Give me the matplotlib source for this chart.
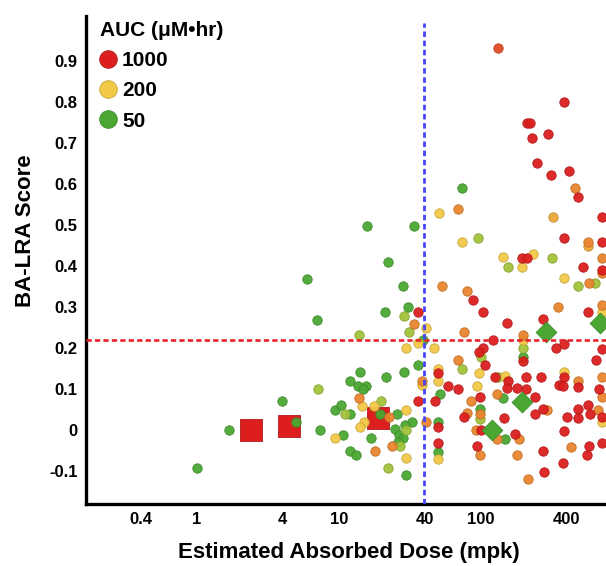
import matplotlib
matplotlib.use("Agg")
import matplotlib.pyplot as plt
from matplotlib.colors import LinearSegmentedColormap, LogNorm
from matplotlib.lines import Line2D
from matplotlib.ticker import NullLocator

plt.rcParams['font.family'] = ['Liberation Sans', 'DejaVu Sans']
plt.rcParams['font.weight'] = 'bold'

# ---- compounds grouped by AUC (uM*hr) ----
green_auc = 50
green_dose = [1.0, 1.68, 3.97, 4.98, 5.95, 7.0, 7.35,
              9.4, 10.3, 11.95, 10.67, 11.9, 13.2, 14.05, 11.95, 13.6, 15.5, 14.8,
              15.7, 22.1, 21.1, 21.4, 28.2, 30.6, 39.0, 28.7, 36.0, 33.7, 25.6, 19.4,
              32.7, 24.8, 26.5, 28.2, 16.8, 29.6, 29.2, 26.0,
              73.5, 51.4, 142.9, 98.4, 49.8, 147.6, 49.8, 198]
green_score = [-0.093, 0.0, 0.07, 0.02, 0.368, 0.268, 0.0,
               0.049, 0.061, 0.039, -0.012, -0.051, -0.061, 0.141, 0.119, 0.107, 0.107, 0.1,
               0.497, 0.409, 0.288, 0.129, 0.351, 0.30, 0.219, 0.141, 0.158, 0.497, 0.039, 0.039,
               0.0195, 0.002, -0.012, -0.0195, -0.0195, -0.11, 0.012, -0.029,
               0.59, 0.088, 0.078, 0.051, 0.0195, -0.022, -0.054, 0.178]

lime_auc = 100
lime_dose = [7.11, 11.0, 13.8, 19.8, 28.7, 31.1, 29.6, 26.9, 22.1,
             95.2, 100, 73.5, 131.8, 98.4, 482, 635, 198, 155, 316]
lime_score = [0.1, 0.039, 0.231, 0.071, 0.278, 0.239, 0.0, -0.039, -0.093,
              0.468, 0.178, 0.149, 0.129, 0.027, 0.351, 0.358, 0.20, 0.397, 0.419]

yellow_auc = 200
yellow_dose = [9.37, 14.5, 17.6, 41.0, 29.6, 36.0, 46.7, 38.4, 29.6, 15.0, 14.05, 29.6,
               50.6, 73.5, 96.8, 49.8, 49.8, 147.6, 93.7, 49.8, 384, 711, 198, 384, 711,
               143, 232, 194]
yellow_score = [-0.0195, 0.059, 0.059, 0.249, 0.20, 0.212, 0.20, 0.11, 0.049, 0.0195, 0.007, -0.068,
                0.529, 0.458, 0.139, 0.149, 0.119, 0.131, 0.107, -0.071, 0.37, 0.2875, 0.219, 0.141, 0.0195,
                0.421, 0.429, 0.397]

amber_auc = 300
amber_dose = [321, 567]
amber_score = [0.519, 0.448]

orange_auc = 450
orange_dose = [13.8, 33.7, 38.4, 22.5, 41.0, 23.6, 17.9, 53.1,
               68.9, 79.7, 75.9, 68.9, 129.7, 85.1, 79.7, 98.4, 92.2, 129.7, 185.2, 98.4, 179.3,
               576, 711, 349, 711, 198, 482, 711, 711, 292, 667, 430, 214, 459, 567, 711]
orange_score = [0.078, 0.258, 0.119, 0.032, 0.0195, -0.039, -0.051, 0.351,
                0.538, 0.339, 0.239, 0.17, 0.088, 0.071, 0.041, 0.039, 0.0, -0.022, -0.022, -0.061, -0.061,
                0.358, 0.382, 0.30, 0.3045, 0.231, 0.119, 0.129, 0.08, 0.049, 0.049, -0.041, -0.119, 0.59, 0.458, 0.42]

scarlet_auc = 700
scarlet_dose = [131.8]
scarlet_score = [0.93]

red_auc = 1000
red_dose = [36.0, 36.0,
            87.9, 103, 152, 121.5, 103, 96.8, 107, 49.8, 125.5, 154.9, 152.4, 179.3, 58.6, 68.9,
            47.4, 98.4, 75.9, 100, 145, 49.8, 173.5, 49.8, 93.7,
            567, 273, 198, 338, 384, 646, 711, 384, 354, 378, 482, 208, 265, 208, 240, 678, 240,
            273, 403, 482, 567, 586, 711, 482, 384, 577, 711, 273, 558, 378, 278,
            384, 211, 221, 229, 296, 248, 311, 417, 482, 711, 384, 711, 523, 711, 194, 211]
red_score = [0.288, 0.071,
             0.317, 0.288, 0.261, 0.219, 0.20, 0.19, 0.158, 0.139, 0.129, 0.119, 0.102, 0.102, 0.107, 0.10,
             0.071, 0.08, 0.032, 0.0, 0.029, 0.007, -0.01, -0.032, -0.039,
             0.2875, 0.27, 0.168, 0.20, 0.21, 0.17, 0.197, 0.13, 0.11, 0.107, 0.105, 0.129, 0.129, 0.10, 0.08, 0.10, 0.039,
             0.051, 0.032, 0.051, 0.061, 0.039, 0.032, 0.029, -0.0024, -0.039, -0.032, -0.051, -0.061, -0.08, -0.102,
             0.80, 0.748, 0.748, 0.711, 0.721, 0.65, 0.621, 0.631, 0.568, 0.519, 0.468, 0.458, 0.398, 0.39, 0.419, 0.419]

# reference compounds
square_dose = [2.40, 4.44, 18.8]
square_score = [0.0, 0.01, 0.029]
square_auc = 1000

diamond_dose = [287, 194, 119.5, 689]
diamond_score = [0.239, 0.068, 0.0, 0.261]
diamond_auc = 50

# thresholds
score_cutoff = 0.22
dose_cutoff = 40

x_ticks = [0.4, 1, 4, 10, 40, 100, 400]
x_tick_labels = ['0.4', '1', '4', '10', '40', '100', '400']
y_ticks = [-0.1, 0, 0.1, 0.2, 0.3, 0.4, 0.5, 0.6, 0.7, 0.8, 0.9]
y_tick_labels = ['-0.1', '0', '0.1', '0.2', '0.3', '0.4', '0.5', '0.6', '0.7', '0.8', '0.9']

legend_auc = [1000, 200, 50]
legend_labels = ['1000', '200', '50']

# ---- colour scale: green (50) -> yellow (200) -> red (1000), log spaced ----
auc_cmap = LinearSegmentedColormap.from_list(
    'auc', [(0.0, '#4aa832'), (0.2314, '#a2c43a'), (0.4628, '#f2c946'),
            (0.7335, '#e9852f'), (1.0, '#dc1e1e')])
auc_norm = LogNorm(50, 1000)


def face(auc):
    return auc_cmap(auc_norm(auc))


def edge(auc, k=0.82):
    r, g, b, _ = face(auc)
    return (r * k, g * k, b * k)


fig = plt.figure(figsize=(6.06, 5.66), dpi=100)
ax = fig.add_axes([86 / 606, 1 - 504 / 566, 520 / 606, 488 / 566])
ax.set_xscale('log')
ax.set_xlim(0.1653, 759)
ax.set_ylim(-0.180, 1.0085)

ax.scatter(square_dose, square_score, marker='s', s=240, color=face(square_auc),
           edgecolors=[edge(square_auc)], linewidths=0.6, zorder=2)

groups = [
    (green_dose, green_score, green_auc),
    (lime_dose, lime_score, lime_auc),
    (yellow_dose, yellow_score, yellow_auc),
    (amber_dose, amber_score, amber_auc),
    (orange_dose, orange_score, orange_auc),
    (scarlet_dose, scarlet_score, scarlet_auc),
    (red_dose, red_score, red_auc),
]
for dose, score, auc in groups:
    ax.scatter(dose, score, marker='o', s=46, color=face(auc),
               edgecolors=[edge(auc)], linewidths=0.6, alpha=0.95, zorder=3)

ax.scatter(diamond_dose, diamond_score, marker='D', s=112, color=face(diamond_auc),
           edgecolors=[edge(diamond_auc)], linewidths=0.6, zorder=4)

ax.axhline(score_cutoff, color='#e8232b', lw=1.9, ls=(0, (2.0, 1.2)), zorder=5)
ax.axvline(dose_cutoff, ymin=0, ymax=0.986, color='#4545ff', lw=2.0, ls=(0, (2.0, 1.3)), zorder=5)

ax.set_xticks(x_ticks)
ax.set_xticklabels(x_tick_labels)
ax.xaxis.set_minor_locator(NullLocator())
ax.set_yticks(y_ticks)
ax.set_yticklabels(y_tick_labels)
ax.tick_params(length=0, labelsize=12, pad=6)

for side in ('top', 'right'):
    ax.spines[side].set_visible(False)
for side in ('left', 'bottom'):
    ax.spines[side].set_linewidth(2.4)
    ax.spines[side].set_color('black')

ax.set_xlabel('Estimated Absorbed Dose (mpk)', fontsize=16, fontweight='bold', va='center')
ax.xaxis.set_label_coords(0.506, -0.100)
ax.set_ylabel('BA-LRA Score', fontsize=16, fontweight='bold', va='center')
ax.yaxis.set_label_coords(-0.117, 0.561)

handles = [Line2D([], [], ls='none', marker='o', ms=12.7, mfc=face(a), mec=edge(a), mew=0.6)
           for a in legend_auc]
leg = ax.legend(handles, legend_labels, title='AUC (\u03bcM\u2022hr)', loc='upper left',
                bbox_to_anchor=(0.027, 0.99), frameon=False,
                prop={'weight': 'bold', 'size': 15},
                title_fontproperties={'weight': 'bold', 'size': 15},
                alignment='left', handlelength=0.8, handletextpad=0.25,
                labelspacing=0.54, borderpad=0, borderaxespad=0)

fig.savefig('out.png', dpi=100)
